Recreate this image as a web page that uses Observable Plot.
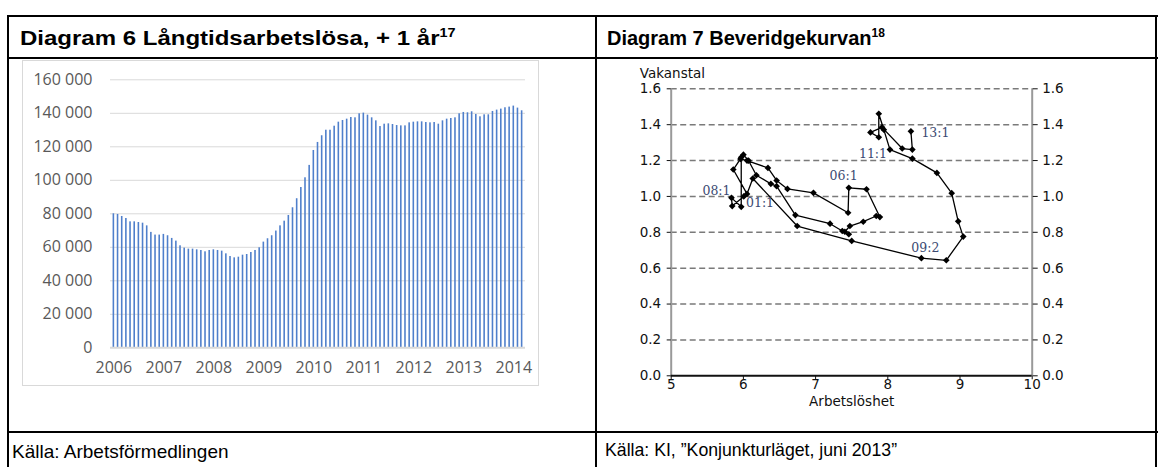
<!DOCTYPE html>
<html><head><meta charset="utf-8">
<script src="https://cdn.jsdelivr.net/npm/d3@7"></script>
<script src="https://cdn.jsdelivr.net/npm/@observablehq/plot@0.6"></script>
<style>
html,body{margin:0;padding:0;background:#fff}
body{width:1158px;height:467px;overflow:hidden;position:relative;font-family:"Liberation Sans",Arial,sans-serif;color:#000}
.ln{position:absolute;background:#000}
.t{position:absolute;white-space:nowrap;line-height:1}
.h{font-weight:bold;font-size:20px}
.h sup{font-size:12px;vertical-align:0;position:relative;top:-8px}
#h1{transform:scaleX(1.2);transform-origin:0 0}
#box{position:absolute;left:22px;top:60px;width:517px;height:326px;border:1px solid #d9d9d9;box-sizing:border-box}
#c1{position:absolute;left:22px;top:61px}
#c2{position:absolute;left:590px;top:60px}
</style></head><body>
<div class="ln" style="left:7px;top:15px;width:1151px;height:2px"></div>
<div class="ln" style="left:7px;top:57px;width:1151px;height:2px"></div>
<div class="ln" style="left:7px;top:431px;width:1151px;height:2px"></div>
<div class="ln" style="left:7px;top:15px;width:2px;height:452px"></div>
<div class="ln" style="left:595px;top:15px;width:2px;height:452px"></div>
<div class="ln" style="left:1155px;top:15px;width:2px;height:452px"></div>
<div class="t h" id="h1" style="left:20px;top:28px">Diagram 6 Långtidsarbetslösa, + 1 år<sup>17</sup></div>
<div class="t h" style="left:607px;top:28px">Diagram 7 Beveridgekurvan<sup>18</sup></div>
<div class="t" style="left:12px;top:442px;font-size:19px">Källa: Arbetsförmedlingen</div>
<div class="t" style="left:605px;top:442px;font-size:17.7px">Källa: KI, ”Konjunkturläget, juni 2013”</div>
<div id="box"></div>
<div id="c1"></div>
<div id="c2"></div>
<script>
// ---- Diagram 6: long-term unemployed, monthly Jan 2006 – Mar 2014
const startYear = 2006;
const values = [
  80000,79600,78400,77200,75200,75200,74800,74400,72800,68900,67300,67300,
  67700,66900,65300,63700,60900,59500,58900,58900,58500,58100,57300,58100,
  58500,58100,57700,56100,54500,53700,54100,55300,55700,56900,58100,59700,
  63100,65100,66900,69700,72800,75600,79000,83600,89000,95700,101500,108900,
  117800,122600,126600,129900,129900,132300,134700,135700,136500,137500,137300,139700,
  140100,138900,137300,135500,132100,133500,133700,133300,132700,132500,132500,134300,
  134700,134900,134900,134500,134300,134500,133500,135500,136500,136900,137300,139700,
  140500,140300,140900,139300,137900,139100,139100,141100,141900,142500,143300,143700,
  144300,143100,141500
];
const months = values.map((v,i)=> `${startYear+Math.floor(i/12)}-${String(i%12+1).padStart(2,"0")}`);
const yearTicks = months.filter(m=>m.endsWith("-01"));
const yTicks1 = [0,20000,40000,60000,80000,100000,120000,140000,160000];

// ---- Diagram 7: Beveridge curve, quarterly 2001:1 – 2013:1
const unemployment = [6.005,5.845,5.835,5.97,5.97,6.0,6.07,6.18,6.38,6.46,6.72,7.2,7.37,7.46,7.405,7.475,7.66,7.84,7.89,7.705,
  7.46,7.45,6.97,6.61,6.46,6.34,6.05,5.96,5.86,6.05,6.13,6.745,7.5,8.465,8.81,9.045,8.975,8.885,8.68,8.34,
  8.03,7.945,7.875,7.875,7.76,7.92,8.2,8.34,8.32];
const vacancies = [1.0,0.946,0.992,0.942,1.218,1.233,1.2,1.118,1.07,1.057,0.896,0.848,0.807,0.789,0.803,0.835,0.859,0.891,0.885,1.04,
  1.048,0.909,1.02,1.042,1.089,1.159,1.2,1.209,1.15,1.014,1.1,0.835,0.752,0.656,0.644,0.776,0.861,1.018,1.131,1.211,
  1.261,1.372,1.461,1.33,1.357,1.385,1.267,1.261,1.363];
const labelText = ["01:1","08:1","06:1","09:2","11:1","13:1"];
const labelX = [6.23,5.627,7.387,8.52,7.795,8.66];
const labelY = [0.961,1.03,1.113,0.714,1.237,1.353];
const yTicks2 = [0,0.2,0.4,0.6,0.8,1.0,1.2,1.4,1.6];
const xTicks2 = [5,6,7,8,9,10];

const barData = months.map((m,i)=>({m, v: values[i]}));
const spaceFmt = d => d3.format(",")(d).replace(/,/g," ");

const c1 = Plot.plot({
  width: 518, height: 326,
  marginLeft: 88, marginRight: 15, marginTop: 18.3, marginBottom: 39.7,
  x: {type:"band", domain: months, padding: 0.62, round: false},
  y: {domain:[0,160000]},
  style: {fontFamily:"'Open Sans'", fontSize:"16px", color:"#595959", background:"transparent", overflow:"visible"},
  marks: [
    Plot.ruleY(yTicks1.filter(d=>d>0), {stroke:"#d9d9d9", strokeWidth:1}),
    Plot.barY(barData, {x:"m", y:"v", fill:"#4f7fcb"}),
    Plot.ruleY([0], {stroke:"#d9d9d9", strokeWidth:2}),
    Plot.axisY({ticks: yTicks1, tickSize:0, tickPadding:18, tickFormat: spaceFmt, label:null}),
    Plot.axisX({ticks: yearTicks, tickSize:0, tickPadding:14, tickFormat: m=>m.slice(0,4), label:null})
  ]
});
document.getElementById("c1").appendChild(c1);

const pts = unemployment.map((u,i)=>({u, v: vacancies[i]}));
const labs = labelText.map((t,i)=>({t, x: labelX[i], y: labelY[i]}));
const c2 = Plot.plot({
  width: 520, height: 360,
  marginLeft: 80.7, marginRight: 78.3, marginTop: 28.3, marginBottom: 44.7,
  x: {domain:[5,10]},
  y: {domain:[0,1.6]},
  style: {fontFamily:"'DejaVu Sans'", fontSize:"13.5px", color:"#111", background:"transparent", overflow:"visible"},
  marks: [
    Plot.ruleY(yTicks2.filter(d=>d>0), {stroke:"#7a7a7a", strokeWidth:1.6, strokeDasharray:"6,3.5"}),
    Plot.ruleX([5,10], {stroke:"#999", strokeWidth:2}),
    Plot.ruleY([0], {stroke:"#111", strokeWidth:2}),
    Plot.axisY({anchor:"left", ticks: yTicks2, tickSize:4, tickPadding:6, tickFormat: d3.format(".1f"), label:null}),
    Plot.axisY({anchor:"right", ticks: yTicks2, tickSize:5, tickPadding:5, tickFormat: d3.format(".1f"), label:null}),
    Plot.axisX({ticks: xTicks2, tickSize:4, tickPadding:0, tickFormat: d3.format("d"), label:null}),
    Plot.line(pts, {x:"u", y:"v", stroke:"#000", strokeWidth:1.3}),
    Plot.dot(pts, {x:"u", y:"v", symbol:"diamond2", r:3, fill:"#000", stroke:"none"}),
    Plot.text(labs, {x:"x", y:"y", text:"t", fontFamily:"'DejaVu Serif'", fontSize:12.5, fill:"#3b4a72"}),
    Plot.text(["Vakanstal"], {frameAnchor:"top-left", text: d=>d, textAnchor:"start", dx:-31.4, dy:-20}),
    Plot.text(["Arbetslöshet"], {frameAnchor:"bottom", text: d=>d, dy:30})
  ]
});
document.getElementById("c2").appendChild(c2);
</script>
</body></html>
